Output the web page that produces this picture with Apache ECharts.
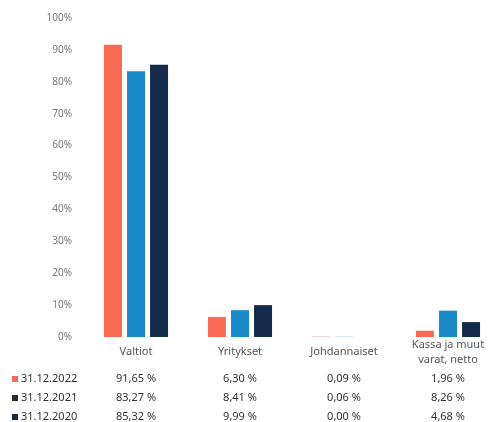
<!DOCTYPE html>
<html>
<head>
<meta charset="utf-8">
<script src="https://cdn.jsdelivr.net/npm/echarts@6/dist/echarts.min.js"></script>
<style>
  html, body { margin: 0; padding: 0; background: #fff; }
  #main { width: 492px; height: 422px; }
</style>
</head>
<body>
<div id="main"></div>
<script>
var categories = ['Valtiot', 'Yritykset', 'Johdannaiset', 'Kassa ja muut\nvarat, netto'];
var seriesNames = ['31.12.2022', '31.12.2021', '31.12.2020'];
var v2022 = [91.65, 6.30, 0.09, 1.96];
var v2021 = [83.27, 8.41, 0.06, 8.26];
var v2020 = [85.32, 9.99, 0.00, 4.68];
var yTicks = [0, 10, 20, 30, 40, 50, 60, 70, 80, 90, 100];

var colors = ['#f76b55', '#1a8bc8', '#15294b'];
var markerColors = ['#f76b55', '#2a2a2a', '#1c2a40'];
var font = 'Noto Sans';

(function () {
  var dom = document.getElementById('main');
  var myChart = echarts.init(dom);
  var allValues = [v2022, v2021, v2020];

  myChart.setOption({
    animation: false,
    textStyle: { fontFamily: font },
    grid: { left: 84, top: 18, width: 416, height: 319, outerBoundsMode: 'none' },
    xAxis: {
      type: 'category',
      data: categories,
      axisLine: { show: false },
      axisTick: { show: false },
      axisLabel: {
        color: '#555',
        fontSize: 11,
        lineHeight: 15,
        verticalAlign: 'middle',
        margin: 15
      }
    },
    yAxis: {
      type: 'value',
      min: yTicks[0],
      max: yTicks[yTicks.length - 1],
      interval: 10,
      splitLine: { show: false },
      axisLine: { show: false },
      axisTick: { show: false },
      axisLabel: {
        color: '#777',
        fontSize: 10,
        margin: 12,
        formatter: '{value}%'
      }
    },
    series: seriesNames.map(function (name, i) {
      return {
        name: name,
        type: 'bar',
        data: allValues[i],
        barWidth: 18,
        barGap: '28%',
        itemStyle: { color: colors[i] }
      };
    })
  });

  // data table under the chart
  var rowY = [379, 398, 417];
  var els = [];
  seriesNames.forEach(function (name, r) {
    els.push({
      type: 'rect',
      shape: { x: 12, y: rowY[r] - 3, width: 6, height: 6 },
      style: { fill: markerColors[r] }
    });
    els.push({
      type: 'text',
      x: 21, y: rowY[r],
      style: { text: name, fill: '#333', font: '11px ' + font, verticalAlign: 'middle' }
    });
    allValues[r].forEach(function (v, c) {
      var cx = myChart.convertToPixel({ xAxisIndex: 0 }, c);
      els.push({
        type: 'text',
        x: cx, y: rowY[r],
        style: {
          text: v.toFixed(2).replace('.', ',') + ' %',
          fill: '#333',
          font: '11px ' + font,
          align: 'center',
          verticalAlign: 'middle'
        }
      });
    });
  });
  myChart.setOption({ graphic: els });
})();
</script>
</body>
</html>
